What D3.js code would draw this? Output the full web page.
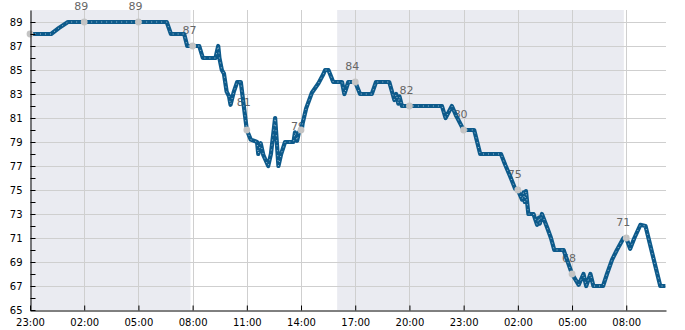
<!DOCTYPE html>
<html>
<head>
<meta charset="utf-8">
<script src="https://cdn.jsdelivr.net/npm/d3@7"></script>
<style>
  body { margin: 0; background: #fff; }
  svg { display: block; font-family: "DejaVu Sans", sans-serif; }
</style>
</head>
<body>
<svg width="685" height="330"></svg>
<script>
// readings (day hh:mm) and values
var times = [
  "01 23:00","02 00:10","02 00:36","02 01:06","02 06:34","02 06:48","02 07:32","02 07:42",
  "02 08:22","02 08:34","02 09:16","02 09:25","02 09:29","02 09:37","02 09:44","02 09:53",
  "02 10:01","02 10:06","02 10:17","02 10:28","02 10:40","02 10:54","02 11:00","02 11:13",
  "02 11:34","02 11:38","02 11:46","02 11:55","02 12:11","02 12:20","02 12:34","02 12:45",
  "02 12:54","02 13:07","02 13:35","02 13:40","02 13:47","02 13:53","02 14:00","02 14:17",
  "02 14:36","02 14:58","02 15:13","02 15:20","02 15:31","02 15:47","02 16:16","02 16:24",
  "02 16:37","02 17:00","02 17:16","02 17:55","02 18:09","02 18:53","02 19:10","02 19:16",
  "02 19:23","02 19:27","02 19:35","02 21:48","02 22:00","02 22:21","02 22:35","02 23:00",
  "02 23:35","02 23:55","03 01:04","03 01:18","03 01:35","03 01:51","03 02:00","03 02:14",
  "03 02:19","03 02:23","03 02:27","03 02:35","03 02:52","03 03:04","03 03:10","03 03:13",
  "03 03:20","03 03:37","03 03:50","03 04:01","03 04:32","03 05:00","03 05:22","03 05:38",
  "03 05:47","03 06:01","03 06:11","03 06:43","03 06:56","03 07:13","03 07:29","03 07:51",
  "03 08:00","03 08:13","03 08:27","03 08:47","03 09:04","03 09:53","03 10:10"
];
var values = [
  88, 88, 88.5, 89, 89, 88, 88, 87,
  87, 86, 86, 87, 86, 85, 84.7, 83.2,
  82.8, 82.1, 83.2, 84, 84, 81.2, 80, 79.2,
  79, 78, 78.9, 77.9, 77, 78, 81, 77,
  78, 79, 79, 79.8, 79.1, 79.8, 80, 81.8,
  83.1, 83.9, 84.6, 85, 85, 84, 84, 83,
  84, 84, 83, 83, 84, 84, 82.5, 83,
  82.2, 82.8, 82, 82, 81, 82, 81.2, 80,
  80, 78, 78, 77.1, 76.1, 75.1, 75, 74.2,
  74.8, 74, 74.9, 73, 73, 72.1, 72.7, 72.2,
  73, 71.9, 71, 70, 70, 68, 67.1, 68,
  67, 68, 67, 67, 68, 69.2, 70, 71,
  71, 70.1, 71, 72.1, 72, 67, 67
];

// 3-hourly markers
var markTimes = ["01 23:00","02 02:00","02 05:00","02 08:00","02 11:00","02 14:00",
                 "02 17:00","02 20:00","02 23:00","03 02:00","03 05:00","03 08:00"];
var markValues = [88, 89, 89, 87, 80, 80, 84, 82, 80, 75, 68, 71];
var markLabels = [null, 89, 89, 87, 81, 79, 84, 82, 80, 75, 68, 71];

// night bands
var nightStart = ["01 23:00", "02 16:00"];
var nightEnd = ["02 07:53", "03 07:52"];

var yTicks = [65, 67, 69, 71, 73, 75, 77, 79, 81, 83, 85, 87, 89];

(function() {
  var parse = d3.timeParse("%d %H:%M");
  var data = times.map(function(t, i) { return { t: parse(t), v: values[i] }; });
  var marks = markTimes.map(function(t, i) {
    return { t: parse(t), v: markValues[i], lab: markLabels[i] };
  });

  var svg = d3.select("svg");
  var pl = 30, pr = 666, pt = 10, pb = 310;

  var x = d3.scaleTime()
    .domain([parse("01 23:00"), parse("03 10:12")])
    .range([pl, pr]);
  var y = d3.scaleLinear().domain([65, 90]).range([pb, pt]);

  svg.append("clipPath").attr("id", "clip")
    .append("rect").attr("x", pl).attr("y", pt)
    .attr("width", pr - pl).attr("height", pb - pt);

  // shading
  svg.append("g").selectAll("rect")
    .data(nightStart)
    .enter().append("rect")
    .attr("x", function(d) { return x(parse(d)); })
    .attr("y", pt)
    .attr("width", function(d, i) { return x(parse(nightEnd[i])) - x(parse(d)); })
    .attr("height", pb - pt)
    .attr("fill", "#eaebf1");

  var xTicks = d3.timeHour.range(x.domain()[0], x.domain()[1], 3);

  // grid
  var grid = svg.append("g").attr("stroke", "#cfcfcf").attr("stroke-width", 1);
  grid.selectAll(".gy").data(yTicks.slice(1)).enter().append("line")
    .attr("x1", pl).attr("x2", pr)
    .attr("y1", function(d) { return Math.round(y(d)) + 0.5; })
    .attr("y2", function(d) { return Math.round(y(d)) + 0.5; });
  grid.selectAll(".gx").data(xTicks.slice(1)).enter().append("line")
    .attr("y1", pt).attr("y2", pb)
    .attr("x1", function(d) { return Math.round(x(d)) + 0.5; })
    .attr("x2", function(d) { return Math.round(x(d)) + 0.5; });

  // labels above markers (drawn under the line)
  svg.append("g").selectAll("text")
    .data(marks.filter(function(d) { return d.lab != null; }))
    .enter().append("text")
    .attr("x", function(d) { return x(d.t) - 3; })
    .attr("y", function(d) { return y(d.lab) - 12; })
    .attr("text-anchor", "middle")
    .attr("font-size", 11)
    .attr("fill", "#666")
    .text(function(d) { return d.lab; });

  // the line
  var line = d3.line()
    .x(function(d) { return x(d.t); })
    .y(function(d) { return y(d.v); });

  var lg = svg.append("g").attr("clip-path", "url(#clip)");
  lg.append("path").datum(data)
    .attr("d", line)
    .attr("fill", "none")
    .attr("stroke", "#0d5a8b")
    .attr("stroke-width", 4.2)
    .attr("stroke-linejoin", "round");
  lg.append("path").datum(data)
    .attr("d", line)
    .attr("fill", "none")
    .attr("stroke", "#ffffff")
    .attr("stroke-opacity", 0.6)
    .attr("stroke-width", 1)
    .attr("stroke-dasharray", "1,4");

  // marker dots
  svg.append("g").selectAll("circle")
    .data(marks)
    .enter().append("circle")
    .attr("cx", function(d) { return x(d.t); })
    .attr("cy", function(d) { return y(d.v); })
    .attr("r", 3.4)
    .attr("fill", "#c4c4c4");

  // axes
  var yAxis = d3.axisLeft(y)
    .tickValues(d3.range(65, 90, 1))
    .tickSizeInner(-5).tickSizeOuter(0)
    .tickPadding(8)
    .tickFormat(function(d) { return d % 2 ? d : ""; });
  svg.append("g").attr("transform", "translate(" + (pl + 0.5) + ",0)")
    .call(yAxis)
    .call(function(g) {
      g.select(".domain").attr("stroke", "#000");
      g.selectAll("text").attr("font-size", 10).attr("fill", "#000")
        .attr("font-family", "DejaVu Sans");
    });

  var xAxis = d3.axisBottom(x)
    .tickValues(xTicks)
    .tickSizeInner(-5).tickSizeOuter(0)
    .tickPadding(8)
    .tickFormat(d3.timeFormat("%H:%M"));
  svg.append("g").attr("transform", "translate(0," + (pb + 0.5) + ")")
    .call(xAxis)
    .call(function(g) {
      g.select(".domain").attr("stroke", "#000");
      g.selectAll("text").attr("font-size", 10).attr("fill", "#000")
        .attr("font-family", "DejaVu Sans");
    });
})();
</script>
</body>
</html>
